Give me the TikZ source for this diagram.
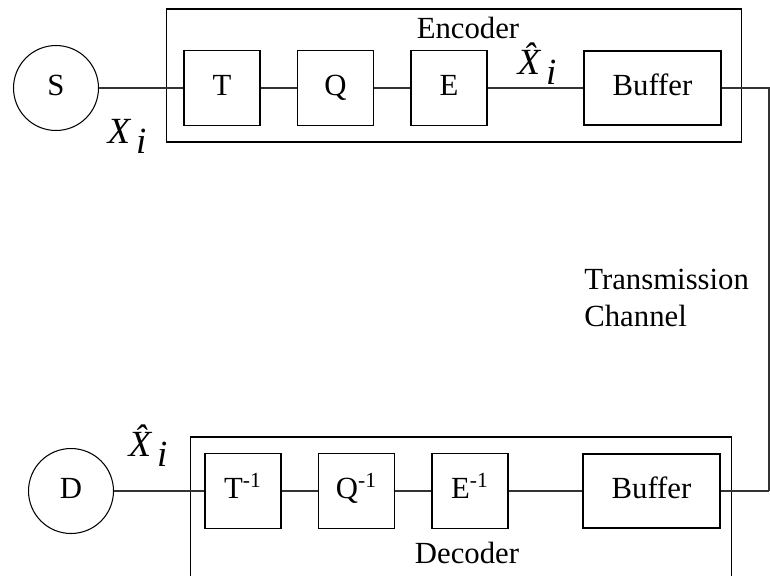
\documentclass[tikz,border=0pt]{standalone}
\usepackage{fontspec}
\setmainfont{Liberation Serif}
\usetikzlibrary{positioning}

\begin{document}
\begin{tikzpicture}[x=0.02cm, y=-0.02cm,
        block/.style={draw, line width=0.6pt, minimum width=1.52cm, minimum height=1.5cm, inner sep=0pt, text height=12pt, text depth=3pt},
        bufbox/.style={draw, line width=0.6pt, minimum width=2.74cm, minimum height=1.48cm, inner sep=0pt, text height=12pt, text depth=3pt},
        srcnode/.style={circle, draw, line width=0.6pt, minimum size=1.7cm, inner sep=0pt, text height=12pt, text depth=3pt},
        frame/.style={draw, line width=0.6pt, inner sep=0pt},
        wire/.style={line width=0.6pt, draw=black!80},
        lbl/.style={inner sep=0pt},
        varlbl/.style={inner sep=0pt, font=\fontsize{21}{24}\selectfont\itshape}
    ]
        \useasboundingbox (0,0) rectangle (770,575);
        \clip (0,0) rectangle (770,575);
        \fontsize{17.5}{21}\selectfont

        % Encoder
        \node[frame, minimum width=11.52cm, minimum height=2.66cm] (enc) at (454,75.5) {};
        \node[lbl] (enclbl) at (468,28) {Encoder};
        \node[srcnode] (s) at (56,88) {S};
        \node[block] (t) at (222,88) {T};
        \node[block] (q) at (335.5,88) {Q};
        \node[block] (e) at (449,88) {E};
        \node[bufbox] (bufe) at (652.5,88) {Buffer};
        \node[varlbl] (xi) at (127,136) {X\raisebox{-0.6ex}{\,i}};
        \node[varlbl] (xhe) at (537,64) {\^X\raisebox{-0.6ex}{\,i}};
        \draw[wire] (s) -- (t);
        \draw[wire] (t) -- (q);
        \draw[wire] (q) -- (e);
        \draw[wire] (e) -- (bufe);

        % channel
        \coordinate (ch1) at (769,88);
        \coordinate (ch2) at (769,491);
        \node[lbl, align=left, anchor=west] (chan) at (584,298) {Transmission\\Channel};
        \draw[wire] (bufe.east) -- (ch1) -- (ch2);

        % Decoder
        \node[frame, minimum width=10.84cm, minimum height=3.46cm] (dec) at (461,523.5) {};
        \node[lbl] (declbl) at (467,553) {Decoder};
        \node[srcnode] (d) at (71,491) {D};
        \node[block] (ti) at (243,491) {T\textsuperscript{-1}};
        \node[block] (qi) at (356.5,491) {Q\textsuperscript{-1}};
        \node[block] (ei) at (470,491) {E\textsuperscript{-1}};
        \node[bufbox] (bufd) at (651.5,491) {Buffer};
        \node[varlbl] (xhd) at (148,446) {\^X\raisebox{-0.6ex}{\,i}};
        \draw[wire] (ch2) -- (bufd.east);
        \draw[wire] (bufd) -- (ei);
        \draw[wire] (ei) -- (qi);
        \draw[wire] (qi) -- (ti);
        \draw[wire] (ti) -- (d);
\end{tikzpicture}
\end{document}
